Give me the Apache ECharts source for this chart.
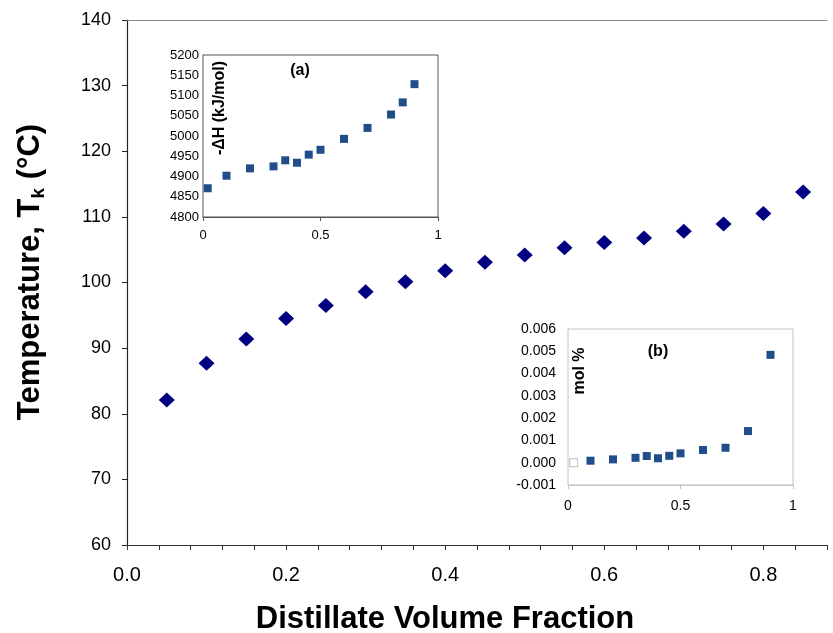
<!DOCTYPE html>
<html><head><meta charset="utf-8">
<script src="https://cdn.jsdelivr.net/npm/echarts@6/dist/echarts.min.js"></script>
<style>html,body{margin:0;padding:0;background:#fff}#c{width:833px;height:633px}</style>
</head><body><div id="c"></div>
<script>
// Main chart: distillate volume fraction vs temperature
const mainX = [0.05,0.10,0.15,0.20,0.25,0.30,0.35,0.40,0.45,0.50,0.55,0.60,0.65,0.70,0.75,0.80,0.85];
const mainT = [82.1,87.7,91.4,94.5,96.5,98.6,100.1,101.8,103.1,104.2,105.3,106.1,106.8,107.8,108.9,110.5,113.8];
// Inset (a): -ΔH (kJ/mol)
const aX = [0.02,0.10,0.20,0.30,0.35,0.40,0.45,0.50,0.60,0.70,0.80,0.85,0.90];
const aH = [4871,4902,4920,4925,4940,4934,4954,4966,4993,5020,5053,5083,5128];
// Inset (b): mol %
const bX = [0.10,0.20,0.30,0.35,0.40,0.45,0.50,0.60,0.70,0.80,0.90];
const bMol = [0.00009,0.00015,0.00022,0.00030,0.00020,0.00031,0.00042,0.00057,0.00067,0.00142,0.00484];
const bOpenX = [0.025];
const bOpenMol = [0.0];

const F = "'Liberation Sans', Arial, sans-serif";
const pair = (xs, ys) => xs.map((x, i) => [x, ys[i]]);

const chart = echarts.init(document.getElementById('c'), null, {renderer: 'canvas'});
chart.setOption({
  animation: false,
  backgroundColor: '#fff',
  grid: [
    {left: 127, top: 20, right: 6, bottom: 88},
    {left: 203, top: 55, width: 235, height: 162, show: true, borderColor: '#555', borderWidth: 1, backgroundColor: '#fff', z: 5},
    {left: 568, top: 329, width: 225, height: 156, show: true, borderColor: '#c4c4c4', borderWidth: 1, backgroundColor: '#fff', z: 5}
  ],
  xAxis: [
    {gridIndex: 0, type: 'value', min: 0, max: 0.88, interval: 0.04,
     axisLine: {lineStyle: {color: '#333', width: 1.2}},
     axisTick: {show: true, length: 5, lineStyle: {color: '#333'}},
     splitLine: {show: false},
     axisLabel: {margin: 20, fontSize: 20, color: '#000', fontFamily: F,
       formatter: v => { const r = v / 0.2; return Math.abs(r - Math.round(r)) < 1e-6 ? v.toFixed(1) : ''; }}},
    {gridIndex: 0, type: 'value', position: 'top', min: 0, max: 0.88,
     axisLine: {show: true, lineStyle: {color: '#888'}}, axisTick: {show: false}, axisLabel: {show: false}, splitLine: {show: false}},
    {gridIndex: 1, type: 'value', min: 0, max: 1, interval: 0.5,
     axisLine: {lineStyle: {color: '#555'}}, axisTick: {show: true, length: 4, lineStyle: {color: '#555'}},
     splitLine: {show: false},
     axisLabel: {margin: 12, fontSize: 13, color: '#000', fontFamily: F}},
    {gridIndex: 2, type: 'value', min: 0, max: 1, interval: 0.5,
     axisLine: {onZero: false, lineStyle: {color: '#c4c4c4'}}, axisTick: {show: true, length: 4, lineStyle: {color: '#c4c4c4'}},
     splitLine: {show: false},
     axisLabel: {margin: 14, fontSize: 14, color: '#000', fontFamily: F}}
  ],
  yAxis: [
    {gridIndex: 0, type: 'value', min: 60, max: 140, interval: 10,
     axisLine: {show: true, lineStyle: {color: '#222', width: 1.2}},
     axisTick: {show: true, length: 5, lineStyle: {color: '#222'}},
     splitLine: {show: false},
     axisLabel: {margin: 16, fontSize: 18, color: '#000', fontFamily: F}},
    {gridIndex: 1, type: 'value', min: 4800, max: 5200, interval: 50,
     axisLine: {show: true, lineStyle: {color: '#555'}}, axisTick: {show: false},
     splitLine: {show: false},
     axisLabel: {margin: 4, fontSize: 13, color: '#000', fontFamily: F, formatter: v => String(v)}},
    {gridIndex: 2, type: 'value', min: -0.001, max: 0.006, interval: 0.001,
     axisLine: {show: true, lineStyle: {color: '#c4c4c4'}}, axisTick: {show: false},
     splitLine: {show: false},
     axisLabel: {margin: 12, fontSize: 14, color: '#000', fontFamily: F, formatter: v => v.toFixed(3)}}
  ],
  series: [
    {type: 'scatter', xAxisIndex: 0, yAxisIndex: 0, data: pair(mainX, mainT),
     symbol: 'diamond', symbolSize: [16, 15], itemStyle: {color: '#000080', opacity: 1}},
    {type: 'scatter', xAxisIndex: 2, yAxisIndex: 1, data: pair(aX, aH), z: 6,
     symbol: 'rect', symbolSize: 8, itemStyle: {color: '#1f4e8a', opacity: 1}},
    {type: 'scatter', xAxisIndex: 3, yAxisIndex: 2, data: pair(bX, bMol), z: 6,
     symbol: 'rect', symbolSize: 8, itemStyle: {color: '#1f4e8a', opacity: 1}},
    {type: 'scatter', xAxisIndex: 3, yAxisIndex: 2, data: pair(bOpenX, bOpenMol), z: 6,
     symbol: 'rect', symbolSize: 8, itemStyle: {color: '#fff', borderColor: '#bbb', borderWidth: 1, opacity: 1}}
  ],
  graphic: [
    {type: 'text', x: 30, y: 272, rotation: Math.PI / 2, z: 10,
     style: {text: '{a|Temperature, T}{s|k}{a| (°C)}', textAlign: 'center', textVerticalAlign: 'middle',
       rich: {a: {fontFamily: F, fontWeight: 'bold', fontSize: 31, fill: '#000', lineHeight: 36, verticalAlign: 'middle'},
              s: {fontFamily: F, fontWeight: 'bold', fontSize: 19, fill: '#000', lineHeight: 36, verticalAlign: 'bottom', padding: [0, 0, 0, 0]}}}},
    {type: 'text', x: 445, y: 619, z: 10,
     style: {text: 'Distillate Volume Fraction', font: 'bold 31px ' + F, fill: '#000', textAlign: 'center', textVerticalAlign: 'middle'}},
    {type: 'text', x: 220, y: 108, rotation: Math.PI / 2, z: 10,
     style: {text: '-ΔH (kJ/mol)', font: 'bold 16px ' + F, fill: '#000', textAlign: 'center', textVerticalAlign: 'middle'}},
    {type: 'text', x: 300, y: 71, z: 10,
     style: {text: '(a)', font: 'bold 16px ' + F, fill: '#000', textAlign: 'center', textVerticalAlign: 'middle'}},
    {type: 'text', x: 580, y: 371, rotation: Math.PI / 2, z: 10,
     style: {text: 'mol %', font: 'bold 16px ' + F, fill: '#000', textAlign: 'center', textVerticalAlign: 'middle'}},
    {type: 'text', x: 658, y: 352, z: 10,
     style: {text: '(b)', font: 'bold 16px ' + F, fill: '#000', textAlign: 'center', textVerticalAlign: 'middle'}}
  ]
});
</script></body></html>
